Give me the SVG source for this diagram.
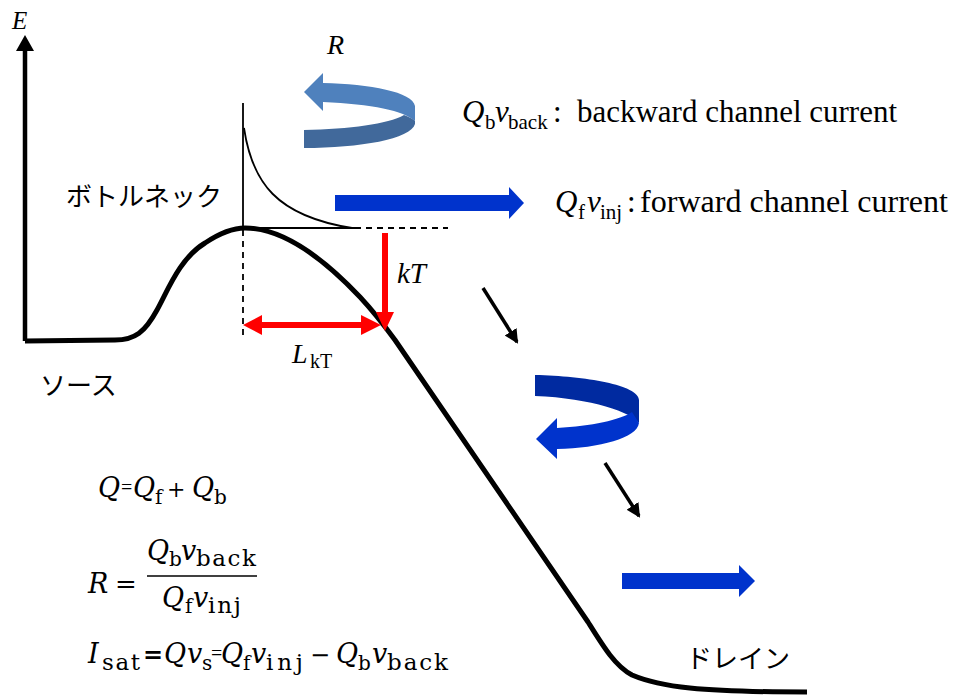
<svg xmlns="http://www.w3.org/2000/svg" width="955" height="695" viewBox="0 0 955 695">
<defs>
<style>
.tm{font-family:"Liberation Serif","Times New Roman",serif;fill:#000}
.it{font-style:italic}
.mf{font-family:"DejaVu Serif",serif;fill:#000}
.jp{font-family:"Noto Sans CJK JP","Noto Sans",sans-serif;fill:#000;font-size:26px}
.thin{stroke:#000;stroke-width:1.8;fill:none}
.dash{stroke:#000;stroke-width:1.8;fill:none;stroke-dasharray:6 5}
.red{stroke:#FF0000;stroke-width:6;fill:none}
.redh{fill:#FF0000}
.blk{stroke:#000;stroke-width:3.5;fill:none;marker-end:url(#ah)}
.blue{fill:#0033CC}
</style>
<marker id="ah" markerUnits="userSpaceOnUse" markerWidth="16" markerHeight="16" refX="12" refY="7" orient="auto">
<path d="M0,0 L14,7 L0,14 Z" fill="#000"/>
</marker>
</defs>
<rect width="955" height="695" fill="#fff"/>

<g id="axis">
<line x1="25" y1="341" x2="25" y2="48" stroke="#000" stroke-width="4.5"/>
<polygon points="25,35 16,51 34,51" fill="#000"/>
<text class="tm it" x="12" y="29" font-size="25">E</text>
</g>

<g id="band-curve">
<path d="M25,341 L115,340 C135,340 145,332 157,310 C168,290 180,258 205,243 C220,233 232,228 245,228 C285,228 325,260 360,297 C373,311 384,325 395,340 L588,622 C603,646 615,666 632,675 C660,687 700,692 807,692" fill="none" stroke="#000" stroke-width="5" stroke-linejoin="round"/>
</g>

<g id="bottleneck-guides">
<line class="thin" x1="243" y1="103" x2="243" y2="228"/>
<path class="thin" d="M244,128 C252,182 276,216 352,228"/>
<line class="thin" x1="243" y1="228" x2="355" y2="228"/>
<line class="dash" x1="355" y1="228" x2="448" y2="228"/>
<line class="dash" x1="243" y1="230" x2="243" y2="336"/>
</g>

<g id="kT-arrow">
<line class="red" x1="385" y1="233" x2="385" y2="314"/>
<polygon class="redh" points="376,312 394,312 385,331"/>
<text class="tm it" x="397" y="283" font-size="29">kT</text>
</g>

<g id="LkT-arrow">
<line class="red" x1="260" y1="325" x2="363" y2="325"/>
<polygon class="redh" points="243,325 262,315 262,335"/>
<polygon class="redh" points="381,325 361,315 361,335"/>
<text class="tm" x="292" y="363"><tspan class="it" font-size="28">L</tspan><tspan x="310" y="368" font-size="20">kT</tspan></text>
</g>

<g id="reflection-R">
<path d="M323,83 C370,84 413,92 415,106 L415,121 C404,111 372,104 323,102 L323,111 L304,92 L323,73 Z" fill="#4F81BD"/>
<path d="M304,130 C350,129 388,124 404,115 C409,117 413,119 415,121 L415,124 C411,139 360,148 304,148 Z" fill="#41699B"/>
<text class="tm it" x="327" y="54" font-size="28">R</text>
</g>

<g id="forward-arrow-top">
<polygon class="blue" points="335,195 509,195 509,187 524,203 509,219 509,211 335,211"/>
</g>

<g id="label-backward">
<text class="tm" y="122" font-size="31"><tspan class="it" x="462">Q</tspan><tspan x="485" y="129" font-size="21">b</tspan><tspan class="it" x="495" y="122">v</tspan><tspan x="508" y="129" font-size="21">back</tspan><tspan x="553" y="122">:</tspan></text>
<text class="tm" x="577" y="122" font-size="31" textLength="320" lengthAdjust="spacingAndGlyphs">backward channel current</text>
</g>

<g id="label-forward">
<text class="tm" y="212" font-size="31"><tspan class="it" x="555">Q</tspan><tspan x="578" y="219" font-size="21">f</tspan><tspan class="it" x="587" y="212">v</tspan><tspan x="600" y="219" font-size="21">inj</tspan><tspan x="627" y="212">:</tspan></text>
<text class="tm" x="640" y="212" font-size="31" textLength="308" lengthAdjust="spacingAndGlyphs">forward channel current</text>
</g>

<g id="flow-arrows">
<line class="blk" x1="483" y1="288" x2="517" y2="342"/>
<line class="blk" x1="605" y1="463" x2="639" y2="516"/>
</g>

<g id="reflection-lower">
<path d="M535,375 C585,376 639,385 639,400 L639,423 C632,413 592,398 535,396 Z" fill="#002AA0"/>
<path d="M557,428 C592,426 620,420 632,412 L639,423 C637,438 600,448 557,449 L557,459 L536,439 L557,418 Z" fill="#0033CC"/>
</g>

<g id="forward-arrow-bottom">
<polygon class="blue" points="622,573 739,573 739,565 755,581 739,597 739,589 622,589"/>
</g>

<g id="labels-jp">
<text class="jp" x="66" y="206">ボトルネック</text>
<text class="jp" x="40" y="395">ソース</text>
<text class="jp" x="686" y="668">ドレイン</text>
</g>

<g id="eq1">
<text class="mf it" x="98" y="497" font-size="27">Q</text>
<text class="tm" x="121" y="494" font-size="20">=</text>
<text class="mf it" x="133" y="497" font-size="27">Q</text>
<text class="mf" x="155" y="504" font-size="20">f</text>
<text class="mf" x="167" y="497" font-size="22">+</text>
<text class="mf it" x="192" y="497" font-size="27">Q</text>
<text class="mf" x="214" y="504" font-size="20">b</text>
</g>

<g id="eq2">
<text class="mf it" x="88" y="593" font-size="27">R</text>
<text class="mf" x="115" y="593" font-size="26">=</text>
<text class="mf it" x="147" y="560" font-size="27">Q</text>
<text class="mf" x="169" y="566" font-size="20">b</text>
<text class="mf it" x="181" y="560" font-size="27">v</text>
<text class="mf" x="196" y="566" font-size="23" textLength="60">back</text>
<line x1="147" y1="576" x2="257" y2="576" stroke="#000" stroke-width="1.6"/>
<text class="mf it" x="162" y="607" font-size="27">Q</text>
<text class="mf" x="185" y="613" font-size="20">f</text>
<text class="mf it" x="193" y="607" font-size="27">v</text>
<text class="mf" x="208" y="613" font-size="23" textLength="33">inj</text>
</g>

<g id="eq3">
<text class="mf it" x="88" y="663" font-size="27">I</text>
<text class="mf" x="102" y="670" font-size="23" textLength="38">sat</text>
<text class="mf" x="143" y="663" font-size="24" font-weight="bold">=</text>
<text class="mf it" x="164" y="663" font-size="27">Q</text>
<text class="mf it" x="187" y="663" font-size="27">v</text>
<text class="mf" x="202" y="670" font-size="20">s</text>
<text class="tm" x="211" y="660" font-size="20">=</text>
<text class="mf it" x="221" y="663" font-size="27">Q</text>
<text class="mf" x="243" y="670" font-size="20">f</text>
<text class="mf it" x="251" y="663" font-size="27">v</text>
<text class="mf" x="266" y="670" font-size="23" textLength="37">inj</text>
<text class="mf" x="310" y="663" font-size="24">−</text>
<text class="mf it" x="336" y="663" font-size="27">Q</text>
<text class="mf" x="358" y="670" font-size="20">b</text>
<text class="mf it" x="372" y="663" font-size="27">v</text>
<text class="mf" x="387" y="670" font-size="23" textLength="61">back</text>
</g>
</svg>
